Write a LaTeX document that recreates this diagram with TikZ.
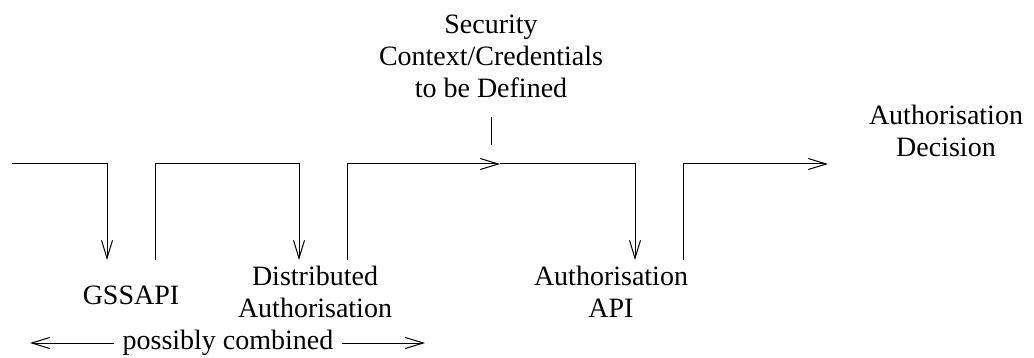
\documentclass[tikz,border=0pt]{standalone}
\usepackage{fontspec}
\setmainfont{Liberation Serif}
\usetikzlibrary{arrows.meta}
\begin{document}
\begin{tikzpicture}[x=1pt,y=-1pt,line width=1pt,
  flow/.style={-{Straight Barb[length=18pt,width=11pt,line width=1pt]}},
  lbl/.style={font=\fontsize{28}{32}\selectfont,align=center,inner sep=0pt}]
\useasboundingbox (0,0) rectangle (1034,358);
% labels
\node[lbl] (sec) at (491,56) {Security\\Context/Credentials\\to be Defined};
\node[lbl] (dec) at (946,131) {Authorisation\\Decision};
\node[lbl] (gss) at (131,295) {GSSAPI};
\node[lbl] (dist) at (315,292) {Distributed\\Authorisation};
\node[lbl] (api) at (611,292) {Authorisation\\API};
\node[lbl] (pc) at (228,343) {possibly combined};
% corner coordinates
\coordinate (a0) at (12,164);  \coordinate (a1) at (107,164); \coordinate (a2) at (107,260);
\coordinate (b0) at (155,260); \coordinate (b1) at (155,164); \coordinate (b2) at (299,164); \coordinate (b3) at (299,260);
\coordinate (c0) at (347,260); \coordinate (c1) at (347,164); \coordinate (c2) at (500,164);
\coordinate (c3) at (635,164); \coordinate (c4) at (635,260);
\coordinate (d0) at (683,260); \coordinate (d1) at (683,164); \coordinate (d2) at (828,164);
\coordinate (t0) at (491,117); \coordinate (t1) at (491,145);
\coordinate (pl) at (30,343); \coordinate (pr) at (425,343);
% connectors
\draw[flow] (a0) -- (a1) -- (a2);
\draw[flow] (b0) -- (b1) -- (b2) -- (b3);
\draw[flow] (c0) -- (c1) -- (c2);
\draw[flow] (c2) -- (c3) -- (c4);
\draw[flow] (d0) -- (d1) -- (d2);
\draw (t0) -- (t1);
\draw[flow] ([xshift=-8pt]pc.west) -- (pl);
\draw[flow] ([xshift=8pt]pc.east) -- (pr);
\end{tikzpicture}
\end{document}
